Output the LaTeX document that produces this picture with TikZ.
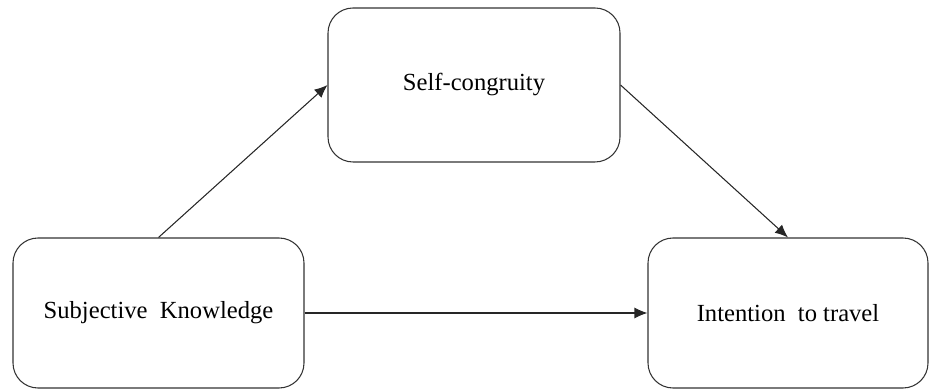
\documentclass[tikz,border=0pt]{standalone}
\usepackage{fontspec}
\setmainfont{Liberation Serif}
\usetikzlibrary{arrows.meta}

\begin{document}
\begin{tikzpicture}[
    % Стиль для блоков: скруглённый прямоугольник с рамкой
    block/.style={rectangle, rounded corners=0.5cm, draw=black!80, line width=0.6pt,
                  fill=white, inner sep=0pt, font=\fontsize{14}{17}\selectfont},
    % Стиль для связей: тонкая линия со стрелкой
    link/.style={draw=black!85, line width=0.6pt, -{Latex[length=2.6mm,width=2.2mm]}}
]

    % --- Рамка рисунка ---
    \useasboundingbox (0, 0) rectangle (18.6, 7.8);

    % --- Верхний блок ---
    \node[block, minimum width=5.84cm, minimum height=3.08cm] (self) at (9.48, 6.1) {Self-congruity};

    % --- Нижние блоки (на одной высоте) ---
    \node[block, minimum width=5.82cm, minimum height=3.0cm] (subj) at (3.17, 1.54) {Subjective~~Knowledge};
    \node[block, minimum width=5.6cm, minimum height=3.0cm] (intent) at (15.76, 1.54) {Intention~~to travel};

    % --- Стрелки ---
    \draw[link] (subj.north) -- (self.west);
    \draw[link] (self.east) -- (intent.north);
    \draw[link] (subj.east) -- (intent.west);

\end{tikzpicture}
\end{document}
